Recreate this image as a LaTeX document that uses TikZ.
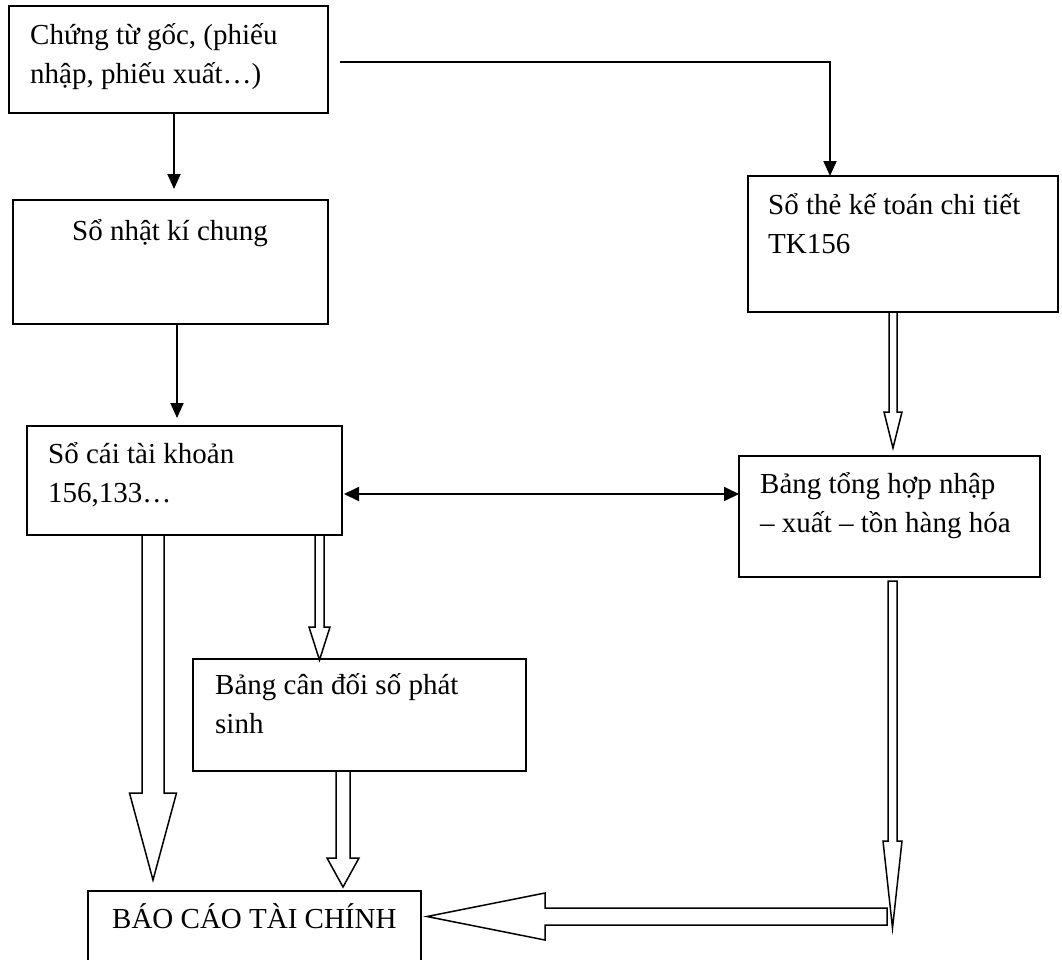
\documentclass[tikz,border=0pt]{standalone}
\usepackage{fontspec}
\setmainfont{Liberation Serif}
\usetikzlibrary{calc,arrows.meta}

% Vertical hollow block arrow: #1 top centre, #2 tip, #3 half shaft width,
% #4 half head width, #5 head length
\newcommand\downblock[5]{%
  \draw[hollow] ($(#1)+(-#3,0)$) -- ($(#2)+(-#3,-#5)$) -- ($(#2)+(-#4,-#5)$)
    -- (#2) -- ($(#2)+(#4,-#5)$) -- ($(#2)+(#3,-#5)$) -- ($(#1)+(#3,0)$) -- cycle;}
% Horizontal hollow block arrow pointing left: #1 right end centre, #2 tip,
% #3 half shaft width, #4 half head width, #5 head length
\newcommand\leftblock[5]{%
  \draw[hollow] ($(#1)+(0,-#3)$) -- ($(#2)+(#5,-#3)$) -- ($(#2)+(#5,-#4)$)
    -- (#2) -- ($(#2)+(#5,#4)$) -- ($(#2)+(#5,#3)$) -- ($(#1)+(0,#3)$) -- cycle;}

\begin{document}
\begin{tikzpicture}[x=1pt,y=-1pt,
  box/.style={draw, line width=1.9pt, outer sep=0pt, inner sep=0pt, anchor=north west},
  txt/.style={anchor=base west, align=left, inner sep=0pt, font=\fontsize{29}{38.5}\selectfont},
  link/.style={line width=1.9pt, -{Triangle[length=15pt,width=13pt]}},
  both/.style={line width=1.9pt, {Triangle[length=15pt,width=14pt]}-{Triangle[length=15pt,width=14pt]}},
  hollow/.style={draw, line width=1.5pt, fill=white, line join=miter}]
\clip (0,0) rectangle (1062,959);
\fill[white] (0,0) rectangle (1062,959);

% boxes
\node[box, minimum width=319pt, minimum height=107pt] (A) at (9,6) {};
\node[box, minimum width=315pt, minimum height=124pt] (B) at (13,200) {};
\node[box, minimum width=315pt, minimum height=109pt] (C) at (27,426) {};
\node[box, minimum width=310pt, minimum height=136pt] (E) at (748,176) {};
\node[box, minimum width=301pt, minimum height=121pt] (D) at (739,456) {};
\node[box, minimum width=333pt, minimum height=112pt] (G) at (193,659) {};
\node[box, minimum width=333pt, minimum height=90pt] (F) at (88,891) {};

% texts (multi-line nodes are placed by the baseline of their last line)
\node[txt] (At) at (30,83) {Chứng từ gốc, (phiếu\\nhập, phiếu xuất…)};
\node[txt, anchor=base] (Bt) at (170,240) {Sổ nhật kí chung};
\node[txt] (Ct) at (48,502) {Sổ cái tài khoản\\156,133…};
\node[txt] (Et) at (768,253) {Sổ thẻ kế toán chi tiết\\TK156};
\node[txt] (Dt) at (760,532) {Bảng tổng hợp nhập\\– xuất – tồn hàng hóa};
\node[txt] (Gt) at (215,733) {Bảng cân đối số phát\\sinh};
\node[txt] (Ft) at (112,928) {BÁO CÁO TÀI CHÍNH};

% thin arrows
\draw[link, shorten >=11pt] ([xshift=5.5pt]A.south) -- ([xshift=3.5pt]B.north);
\draw[link, shorten >=8pt] ([xshift=6.5pt]B.south) -- ([xshift=-7.5pt]C.north);
\draw[link] ($(A.east)+(12,2.5)$) -| ([xshift=-73pt]E.north);
\coordinate (cd) at ($(C.east)+(2,13.5)$);
\draw[both] (cd) -- (cd -| D.west);

% block arrows
\coordinate (c1) at ($(C.south west)+(126,0)$);
\coordinate (f1) at ($(F.north west)+(65,-11)$);
\downblock{c1}{f1}{11}{23.5}{87}

\coordinate (c2) at ($(C.south west)+(292.5,0)$);
\coordinate (g1) at ($(G.north west)+(126.5,1)$);
\downblock{c2}{g1}{4.5}{10.5}{33}

\coordinate (g2) at ($(G.south west)+(150,0)$);
\coordinate (f2) at ($(F.north west)+(255,-4)$);
\downblock{g2}{f2}{7}{16}{29}

\coordinate (e1) at ($(E.south west)+(145,0)$);
\coordinate (d1) at ($(D.north west)+(154,-8)$);
\downblock{e1}{d1}{4}{9}{36}

\coordinate (d2) at ($(D.south west)+(153.5,4)$);
\coordinate (k) at (892.5,928);
\coordinate (kr) at (887,916.5);
\coordinate (f3) at ($(F.north east)+(6,25.5)$);
\leftblock{kr}{f3}{8.5}{23.5}{118}
\downblock{d2}{k}{4.5}{9.5}{87}
\end{tikzpicture}
\end{document}
